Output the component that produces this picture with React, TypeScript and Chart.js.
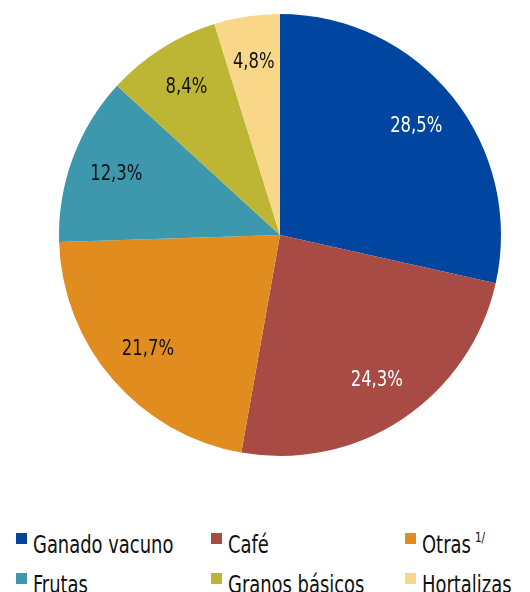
import React, { useEffect, useRef } from "react";
import { Chart, registerables } from "chart.js";

Chart.register(...registerables);

const categories = ["Ganado vacuno", "Café", "Otras", "Frutas", "Granos básicos", "Hortalizas"];
const values = [28.5, 24.3, 21.7, 12.3, 8.4, 4.8];
const colors = ["#0046A0", "#A84B45", "#E08C1E", "#3D97AD", "#BDB634", "#F8D888"];
const labelColors = ["#ffffff", "#ffffff", "#111111", "#111111", "#111111", "#111111"];
const superscripts = ["", "", "1/", "", "", ""];

const FONT = "'DejaVu Sans Condensed', 'DejaVu Sans', sans-serif";
const NARROW = 0.83;

const labelPlugin = {
  id: "sliceLabels",
  afterDatasetsDraw(chart: any) {
    const ctx = chart.ctx;
    const meta = chart.getDatasetMeta(0);
    meta.data.forEach((arc: any, i: number) => {
      const p = arc.getProps(["startAngle", "endAngle", "outerRadius", "x", "y"], true);
      const mid = (p.startAngle + p.endAngle) / 2;
      const r = p.outerRadius * 0.79;
      const x = p.x + Math.cos(mid) * r;
      const y = p.y + Math.sin(mid) * r;
      ctx.save();
      ctx.font = `22px ${FONT}`;
      ctx.textAlign = "center";
      ctx.textBaseline = "middle";
      ctx.fillStyle = labelColors[i];
      ctx.translate(x, y);
      ctx.scale(NARROW, 1);
      ctx.fillText(values[i].toFixed(1).replace(".", ",") + "%", 0, 0);
      ctx.restore();
    });
  },
};

export default function App() {
  const ref = useRef<HTMLCanvasElement>(null);
  useEffect(() => {
    if (!ref.current) return;
    const chart = new Chart(ref.current, {
      type: "pie",
      data: {
        labels: categories,
        datasets: [
          {
            data: values,
            backgroundColor: colors,
            borderWidth: 0,
          },
        ],
      },
      options: {
        responsive: false,
        animation: false,
        layout: { padding: { top: 14, bottom: 16, left: 59, right: 29 } },
        plugins: {
          legend: { display: false },
          tooltip: { enabled: false },
        },
      },
      plugins: [labelPlugin],
    });
    return () => chart.destroy();
  }, []);

  const colLeft = [16, 211, 405];
  const rowTop = [533, 573];

  return (
    <div style={{ position: "absolute", left: 0, top: 0, width: 530, height: 592, overflow: "hidden", background: "#fff" }}>
      <canvas ref={ref} width={530} height={472} style={{ position: "absolute", left: 0, top: 0, width: 530, height: 472 }} />
      {categories.map((c, i) => {
        const col = i % 3;
        const row = Math.floor(i / 3);
        return (
          <div
            key={c}
            style={{
              position: "absolute",
              left: colLeft[col],
              top: rowTop[row],
              height: 30,
              whiteSpace: "nowrap",
              fontFamily: FONT,
              fontSize: 24,
              lineHeight: "24px",
              color: "#111",
            }}
          >
            <span
              style={{
                position: "absolute",
                left: 0,
                top: 0,
                width: 11,
                height: 11,
                background: colors[i],
              }}
            />
            <span
              style={{
                position: "absolute",
                left: 17,
                top: 0,
                transform: `scaleX(${NARROW})`,
                transformOrigin: "0 0",
              }}
            >
              {c}
              {superscripts[i] ? (
                <span style={{ fontSize: 14, position: "relative", top: -11, marginLeft: 5 }}>{superscripts[i]}</span>
              ) : null}
            </span>
          </div>
        );
      })}
    </div>
  );
}
